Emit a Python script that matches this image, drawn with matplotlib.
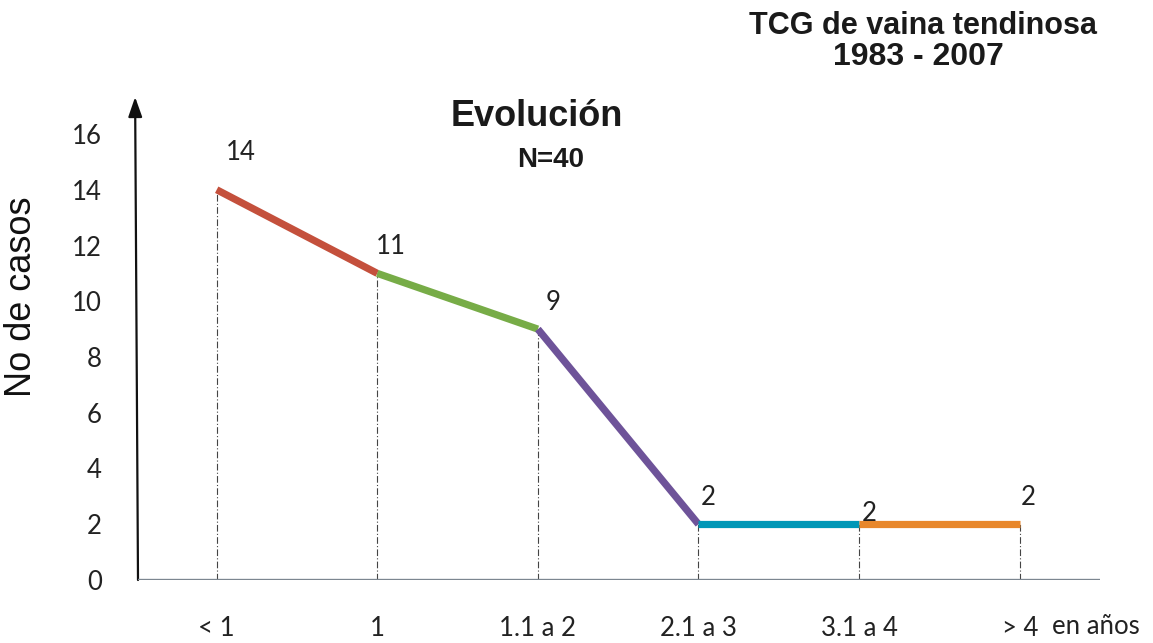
import matplotlib
matplotlib.use("Agg")
import matplotlib.pyplot as plt

categories = ["< 1", "1", "1.1 a 2", "2.1 a 3", "3.1 a 4", "> 4"]
values = [14, 11, 9, 2, 2, 2]
segment_colors = ["#c4503c", "#77ac47", "#6e5399", "#0097b7", "#e8872b"]
yticks = [0, 2, 4, 6, 8, 10, 12, 14, 16]
label_offsets = [(17, 27), (10, 19), (11, 19), (7, 19), (7, 8), (6, 19)]

fig = plt.figure(figsize=(11.53, 6.43), dpi=100)
ax = fig.add_axes([138/1153, (643-580)/643, 962/1153, (580-97)/643])
x = list(range(len(categories)))
ax.set_xlim(-0.49, 5.5)
ax.set_ylim(0, (580-97)/27.875)

tickfont = "Lato"
fs = 18.5
for i in range(len(values) - 1):
    ax.plot([x[i], x[i+1]], [values[i], values[i+1]], color=segment_colors[i],
            lw=5.2, solid_capstyle="butt", zorder=3)
for xi, v in zip(x, values):
    ax.plot([xi, xi], [0, v], color="#444444", lw=0.8, ls=(0, (6, 2, 1, 2)), zorder=2)
for xi, v, off in zip(x, values, label_offsets):
    ax.annotate(str(v), (xi, v), xytext=off, textcoords="offset points",
                ha="center", va="center", fontsize=fs, family=tickfont, color="#222222")

for s in ax.spines.values():
    s.set_visible(False)
ax.axhline(0, color="#7c8690", lw=2.4, zorder=4)
ax.annotate("", xy=(-0.003, 1.0), xytext=(0.0, 0.0), xycoords="axes fraction",
            textcoords="axes fraction",
            arrowprops=dict(arrowstyle="-|>,head_length=1.2,head_width=0.42",
                            color="#111111", lw=1.6, shrinkA=0, shrinkB=0))

ax.set_xticks(x)
ax.set_xticklabels(categories, family=tickfont, fontsize=fs, color="#222222")
ax.set_yticks(yticks)
ax.set_yticklabels([str(t) for t in yticks], family=tickfont, fontsize=fs, color="#222222")
ax.tick_params(axis="x", length=0, pad=35)
ax.tick_params(axis="y", length=0, pad=26)
for lab in ax.get_xticklabels():
    lab.set_verticalalignment("center")

ax.text(5.2, -46/483, "en años", transform=ax.get_xaxis_transform(), ha="left", va="center",
        fontsize=fs, family=tickfont, color="#222222")

fig.text(22/1153, 1 - 297/643, "No de casos", rotation=90, ha="center", va="center",
         fontsize=26, family="Liberation Sans", color="#111111")
fig.text(537/1153, 1 - 117/643, "Evolución", ha="center", va="center",
         fontsize=26, fontweight="bold", family="Liberation Sans", color="#1a1a1a")
fig.text(551/1153, 1 - 160/643, "N=40", ha="center", va="center",
         fontsize=20, fontweight="bold", family="Liberation Sans", color="#1a1a1a")
fig.text(923/1153, 1 - 26/643, "TCG de vaina tendinosa", ha="center", va="center",
         fontsize=22, fontweight="bold", family="Liberation Sans", color="#1a1a1a")
fig.text(918/1153, 1 - 57/643, "1983 - 2007", ha="center", va="center",
         fontsize=23, fontweight="bold", family="Liberation Sans", color="#1a1a1a")

fig.savefig("out.png", dpi=100)
